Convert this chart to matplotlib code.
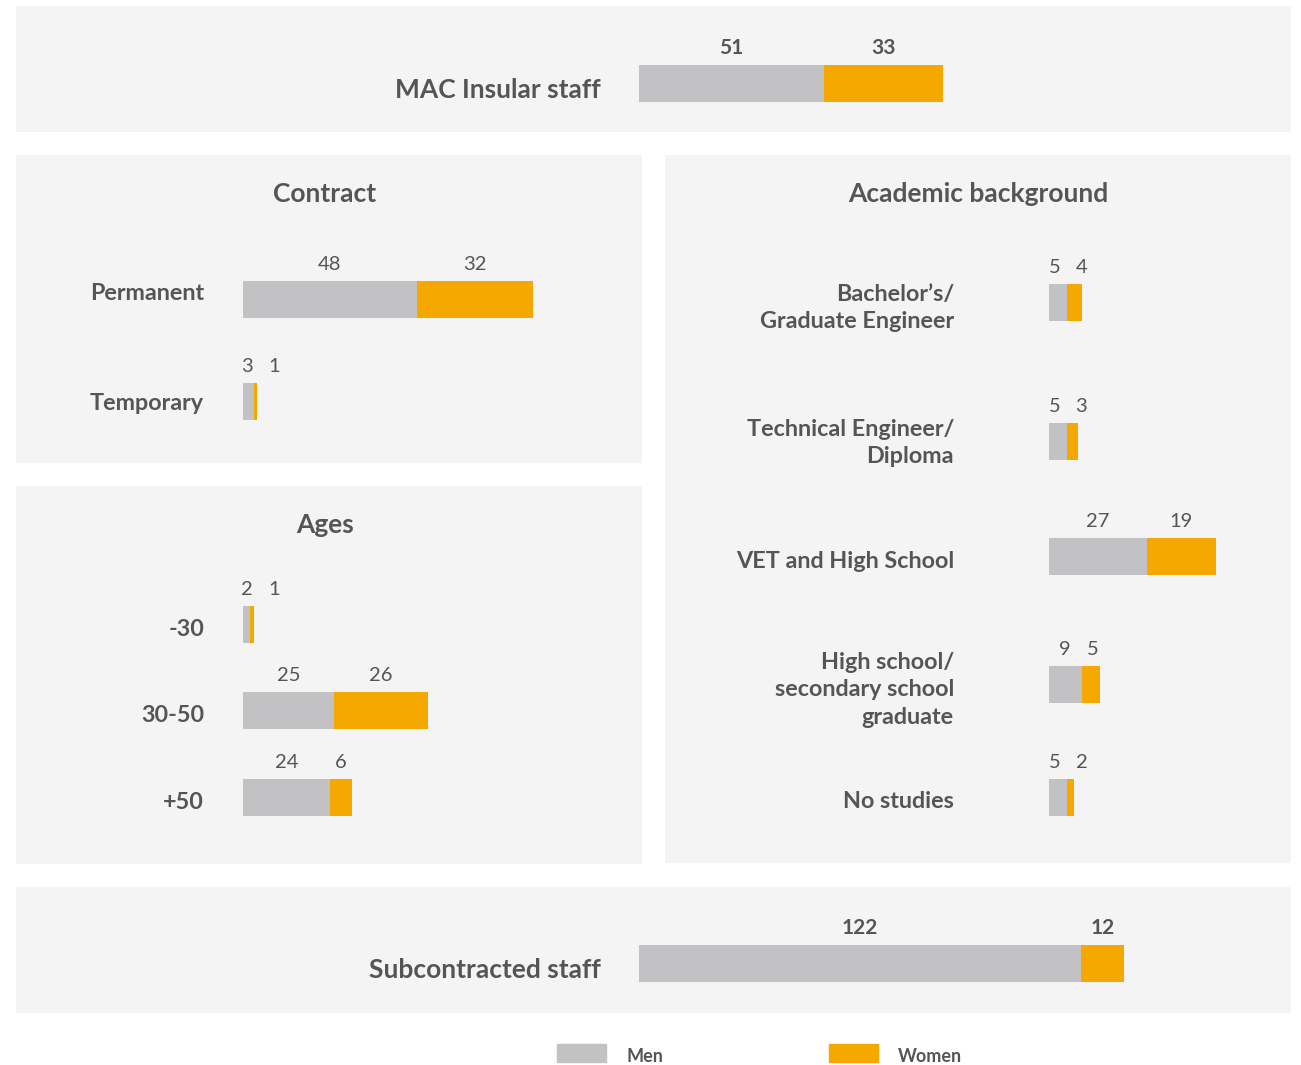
import matplotlib
matplotlib.use("Agg")
import matplotlib.pyplot as plt
from matplotlib.patches import Rectangle

plt.rcParams['font.family'] = ['Lato', 'DejaVu Sans']

# ---------------- data ----------------
mac_label = ["MAC Insular staff"]
mac_men = [51]
mac_women = [33]

contract_labels = ["Permanent", "Temporary"]
contract_men = [48, 3]
contract_women = [32, 1]

age_labels = ["-30", "30-50", "+50"]
age_men = [2, 25, 24]
age_women = [1, 26, 6]

acad_labels = ["Bachelor\u2019s/\nGraduate Engineer", "Technical Engineer/\nDiploma",
               "VET and High School", "High school/\nsecondary school\ngraduate", "No studies"]
acad_men = [5, 5, 27, 9, 5]
acad_women = [4, 3, 19, 5, 2]

sub_label = ["Subcontracted staff"]
sub_men = [122]
sub_women = [12]

legend_labels = ["Men", "Women"]

# ---------------- style ----------------
W, H = 1301, 1065
MEN = "#c2c1c4"
WOMEN = "#f5a800"
PANEL = "#f4f4f4"
TXT = "#555555"
S = 3.62          # pixels per unit
BAR_H = 37        # bar thickness in px

fig = plt.figure(figsize=(W / 100, H / 100), dpi=100)
fig.patch.set_facecolor("white")


def panel(x0, y0, x1, y1, bar_start):
    ax = fig.add_axes([x0 / W, 1 - y1 / H, (x1 - x0) / W, (y1 - y0) / H])
    ax.set_facecolor(PANEL)
    for sp in ax.spines.values():
        sp.set_visible(False)
    ax.set_xticks([])
    ax.set_yticks([])
    ax.set_xlim((x0 - bar_start) / S, (x1 - bar_start) / S)
    ax.set_ylim(y1, y0)
    return ax


def draw(ax, labels, men, women, ycent, label_x_px, label_dy, bar_start,
         lab_size=16.8, val_size=14.5, val_weight="normal", min_gap=27):
    ax.barh(ycent, men, height=BAR_H, color=MEN, left=0)
    ax.barh(ycent, women, height=BAR_H, color=WOMEN, left=men)
    for lab, m, w, y, dy in zip(labels, men, women, ycent, label_dy):
        ax.text((label_x_px - bar_start) / S, y + dy + 1.5, lab, ha="right", va="center",
                fontsize=lab_size, fontweight="bold", color=TXT, linespacing=1.4)
        mx = m / 2
        wx = m + w / 2
        if (wx - mx) * S < min_gap:
            if m * S < 25:
                mx = max(mx - 1.0, 1.2)
            wx = mx + min_gap / S
        vy = y - BAR_H / 2 - 16.5
        ax.text(mx, vy, str(m), ha="center", va="center", fontsize=val_size,
                fontweight=val_weight, color=TXT)
        ax.text(wx, vy, str(w), ha="center", va="center", fontsize=val_size,
                fontweight=val_weight, color=TXT)


def title(ax, x_px, y_px, bar_start, s):
    ax.text((x_px - bar_start) / S, y_px + 2, s, ha="center", va="center",
            fontsize=19, fontweight="bold", color=TXT)


# MAC Insular staff
ax = panel(16, 6, 1291, 132, 639)
draw(ax, mac_label, mac_men, mac_women, [83.5], 601, [5], 639,
     lab_size=19, val_size=15, val_weight="bold")

# Contract
ax = panel(16, 155, 642, 463, 243)
title(ax, 325, 192, 243, "Contract")
draw(ax, contract_labels, contract_men, contract_women, [299.5, 401.5], 204,
     [-7, 0], 243)

# Ages
ax = panel(16, 486, 642, 864, 243)
title(ax, 325, 523, 243, "Ages")
draw(ax, age_labels, age_men, age_women, [624.5, 710.5, 797.5], 204,
     [3, 3, 3], 243)

# Academic background
ax = panel(665, 155, 1291, 863, 1049)
title(ax, 978, 192, 1049, "Academic background")
draw(ax, acad_labels, acad_men, acad_women,
     [302.5, 441.5, 556.5, 684.5, 797.5], 954, [4, 0, 4, 4, 3], 1049)

# Subcontracted staff
ax = panel(16, 887, 1291, 1013, 639)
draw(ax, sub_label, sub_men, sub_women, [963.5], 601, [5], 639,
     lab_size=19, val_size=15, val_weight="bold")

# Legend
for (bx, tx), lab, col in zip([(557, 626), (829, 898)], legend_labels, [MEN, WOMEN]):
    fig.patches.append(Rectangle((bx / W, 1 - 1062 / H), 49 / W, 18 / H,
                                 transform=fig.transFigure, color=col))
    fig.text(tx / W, 1 - 1056 / H, lab, ha="left", va="center", fontsize=13,
             fontweight="bold", color=TXT)

fig.savefig("out.png", dpi=100, facecolor="white")
